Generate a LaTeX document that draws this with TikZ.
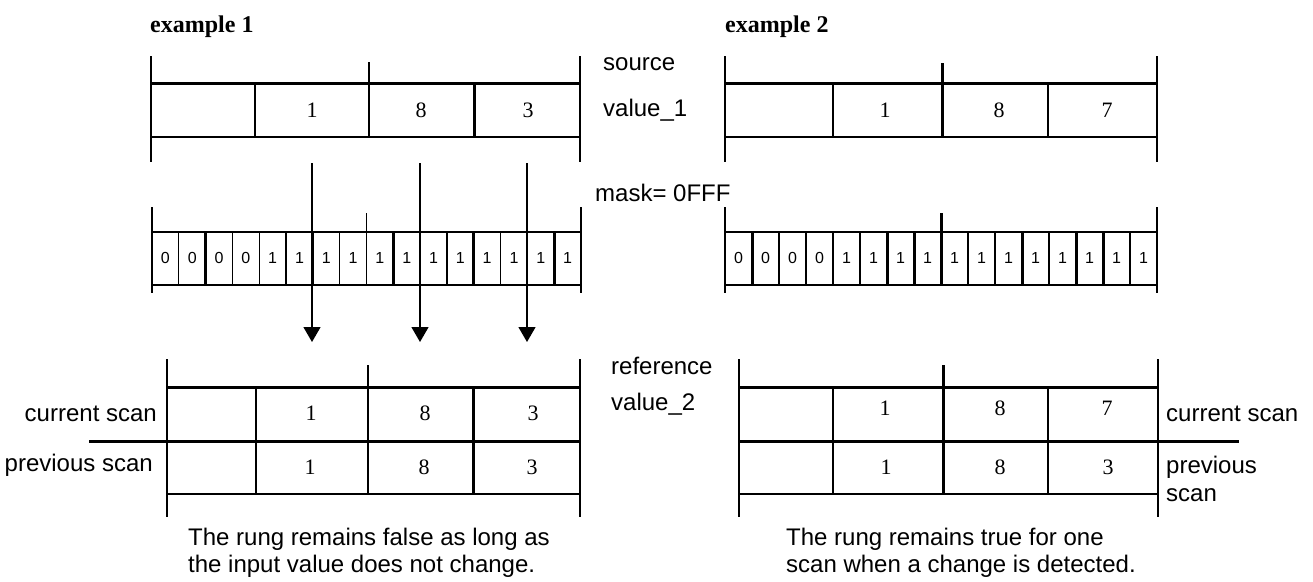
\documentclass[tikz,border=0pt]{standalone}
\usepackage{fontspec}
\setmainfont{Liberation Sans}
\newfontfamily\dgfont{Liberation Serif}
\usetikzlibrary{arrows.meta}
\begin{document}
\begin{tikzpicture}[x=1pt,y=-1pt,
 thinln/.style={line width=1.3pt},
 thickln/.style={line width=3pt},
 lbl/.style={anchor=base west,inner sep=0pt,font=\fontsize{24}{26}\selectfont},
 lblr/.style={anchor=base east,inner sep=0pt,font=\fontsize{24}{26}\selectfont},
 val/.style={anchor=base,inner sep=0pt,font=\dgfont\fontsize{22}{24}\selectfont},
 bit/.style={anchor=base,inner sep=0pt,font=\fontsize{16}{18}\selectfont},
 ttl/.style={anchor=base west,inner sep=0pt,font=\dgfont\bfseries\fontsize{24}{26}\selectfont},
 arr/.style={line width=1.3pt,-{Triangle[width=17pt,length=15pt]}}]
\fill[white] (0,0) rectangle (1313,581);
\useasboundingbox (0,0) rectangle (1313,581);

% titles
\node[ttl] (t1) at (150,32) {example 1};
\node[ttl] (t2) at (725,32) {example 2};

% ---------- top box example 1
\draw[thinln] (151,56) -- (151,162);
\draw[thinln] (580,56) -- (580,162);
\draw[thickln] (151,83) -- (580,83);
\draw[thinln] (151,137) -- (580,137);
\draw[thinln] (255,83) -- (255,137);
\draw[thinln] (369,62) -- (369,137);
\draw[thickln] (474,83) -- (474,137);
\node[val] (s1a) at (312,117) {1};
\node[val] (s1b) at (421,117) {8};
\node[val] (s1c) at (528,117) {3};
\node[lbl] (src) at (603,70) {source};
\node[lbl] (srcv) at (603,116) {value\_1};

% ---------- top box example 2
\draw[thinln] (725,56) -- (725,162);
\draw[thinln] (1157,56) -- (1157,162);
\draw[thickln] (725,83) -- (1157,83);
\draw[thinln] (725,137) -- (1157,137);
\draw[thinln] (833,83) -- (833,137);
\draw[thickln] (942,63) -- (942,137);
\draw[thinln] (1048,83) -- (1048,137);
\node[val] (s2a) at (885,117) {1};
\node[val] (s2b) at (999,117) {8};
\node[val] (s2c) at (1107,117) {7};

% ---------- mask label
\node[lbl] (mask) at (595,201) {mask= 0FFF};

% ---------- mask row example 1
\draw[thinln] (152,207) -- (152,293);
\draw[thinln] (581,207) -- (581,293);
\draw[thinln] (152,232) -- (581,232);
\draw[thinln] (152,285) -- (581,285);
\foreach \k in {1,3,4,5,6,7,10,11,13,14}
  \draw[thinln] ({152+26.8125*\k},232) -- ({152+26.8125*\k},285);
\foreach \k in {2,9,12,15}
  \draw[thickln] ({152+26.8125*\k},232) -- ({152+26.8125*\k},285);
\draw[thinln] ({152+26.8125*8},213) -- ({152+26.8125*8},285);
\foreach \k in {0,...,3}
  \node[bit] (ma\k) at ({152+26.8125*(\k+0.5)},263) {0};
\foreach \k in {4,...,15}
  \node[bit] (ma\k) at ({152+26.8125*(\k+0.5)},263) {1};

% ---------- mask row example 2
\draw[thinln] (725,207) -- (725,293);
\draw[thinln] (1157,207) -- (1157,293);
\draw[thinln] (725,232) -- (1157,232);
\draw[thinln] (725,285) -- (1157,285);
\foreach \k in {2,3,4,5,9,10,12,15}
  \draw[thinln] ({725+27*\k},232) -- ({725+27*\k},285);
\foreach \k in {1,6,7,11,13,14}
  \draw[thickln] ({725+27*\k},232) -- ({725+27*\k},285);
\draw[thickln] ({725+27*8},213) -- ({725+27*8},285);
\foreach \k in {0,...,3}
  \node[bit] (mb\k) at ({725+27*(\k+0.5)},263) {0};
\foreach \k in {4,...,15}
  \node[bit] (mb\k) at ({725+27*(\k+0.5)},263) {1};

% ---------- arrows
\coordinate (a1s) at (312,163); \coordinate (a1e) at (312,342);
\coordinate (a2s) at (420,163); \coordinate (a2e) at (420,342);
\coordinate (a3s) at (527,163); \coordinate (a3e) at (527,342);
\draw[arr] (a1s) -- (a1e);
\draw[arr] (a2s) -- (a2e);
\draw[arr] (a3s) -- (a3e);

% ---------- reference label
\node[lbl] (ref) at (611,374) {reference};
\node[lbl] (refv) at (611,410) {value\_2};

% ---------- lower box example 1
\draw[thinln] (167,359) -- (167,517);
\draw[thinln] (580,359) -- (580,517);
\draw[thickln] (167,387) -- (580,387);
\draw[thickln] (89,441) -- (580,441);
\draw[thinln] (167,494) -- (580,494);
\draw[thinln] (256,387) -- (256,494);
\draw[thinln] (368,365) -- (368,494);
\draw[thickln] (473,387) -- (473,494);
\node[val] (c1a) at (311,420) {1};
\node[val] (c1b) at (425,420) {8};
\node[val] (c1c) at (533,420) {3};
\node[val] (p1a) at (310,474) {1};
\node[val] (p1b) at (424,474) {8};
\node[val] (p1c) at (532,474) {3};
\node[lblr] (cur1) at (157,421) {current scan};
\node[lblr] (prev1) at (153,471) {previous scan};

% ---------- lower box example 2
\draw[thinln] (739,359) -- (739,517);
\draw[thinln] (1158,359) -- (1158,517);
\draw[thickln] (739,387) -- (1158,387);
\draw[thickln] (739,441) -- (1239,441);
\draw[thinln] (739,494) -- (1158,494);
\draw[thinln] (833,387) -- (833,494);
\draw[thickln] (943,365) -- (943,494);
\draw[thinln] (1048,387) -- (1048,494);
\node[val] (c2a) at (885,415) {1};
\node[val] (c2b) at (1000,415) {8};
\node[val] (c2c) at (1107,415) {7};
\node[val] (p2a) at (886,474) {1};
\node[val] (p2b) at (1000,474) {8};
\node[val] (p2c) at (1108,474) {3};
\node[lbl] (cur2) at (1166,421) {current scan};
\node[lbl] (prev2) at (1166,473) {previous};
\node[lbl] (prev2b) at (1166,501) {scan};

% ---------- captions
\node[lbl] (cap1a) at (188,545) {The rung remains false as long as};
\node[lbl] (cap1b) at (188,572) {the input value does not change.};
\node[lbl] (cap2a) at (786,545) {The rung remains true for one};
\node[lbl] (cap2b) at (786,572) {scan when a change is detected.};
\end{tikzpicture}
\end{document}
